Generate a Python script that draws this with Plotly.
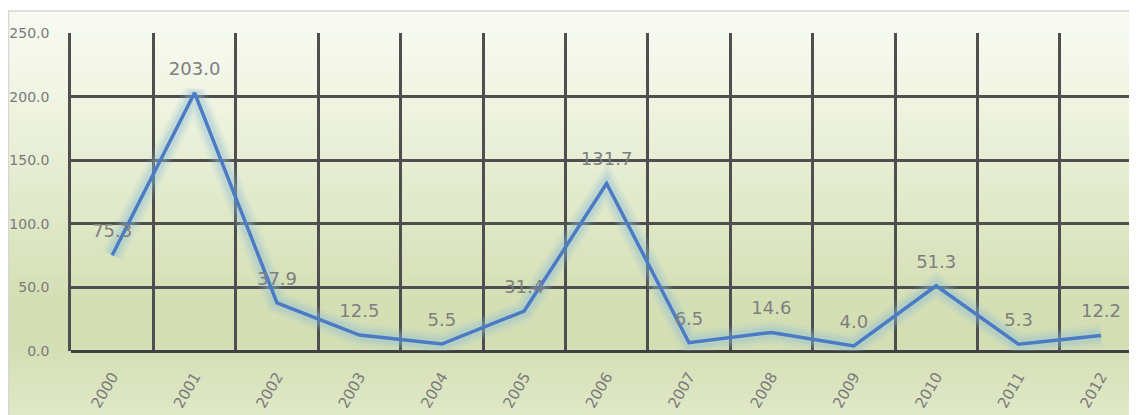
import plotly.graph_objects as go

years = ["2000", "2001", "2002", "2003", "2004", "2005", "2006",
         "2007", "2008", "2009", "2010", "2011", "2012"]
values = [75.3, 203.0, 37.9, 12.5, 5.5, 31.4, 131.7, 6.5, 14.6, 4.0, 51.3, 5.3, 12.2]
y_ticks = [0, 50, 100, 150, 200, 250]

# page has an 8px body margin; work in figure pixels
OFF = 8
W, H = 1137 - OFF, 415 - OFF
L, T, B = 71 - OFF, 33 - OFF, 351 - OFF
CELL = 82.4
idx = list(range(len(years)))

fig = go.Figure()

# soft glow
for w, a in [(22, 0.12), (16, 0.17), (11, 0.22)]:
    fig.add_trace(go.Scatter(x=idx, y=values, mode="lines",
                             line=dict(color=f"rgba(140,188,212,{a})", width=w),
                             hoverinfo="skip", showlegend=False))
# main line
fig.add_trace(go.Scatter(x=idx, y=values, mode="lines",
                         line=dict(color="#4a7bc4", width=3.5),
                         showlegend=False))
# labels
fig.add_trace(go.Scatter(x=idx, y=values, mode="markers+text",
                         marker=dict(size=20, color="rgba(0,0,0,0)"),
                         text=[f"{v:.1f}" for v in values],
                         textposition="top center",
                         textfont=dict(family="DejaVu Sans", size=18, color="#7f7f7f"),
                         showlegend=False, hoverinfo="skip"))

def py(p):
    return (B - p) / (B - T)

def pxx(p):
    return (p - L) / (W - L)

stops = [(0, (249, 251, 244)), (90, (240, 244, 226)), (190, (226, 234, 204)),
         (290, (213, 223, 181)), (335, (212, 222, 179)), (407, (224, 232, 200))]

def col_at(p):
    for (p0, c0), (p1, c1) in zip(stops[:-1], stops[1:]):
        if p0 <= p <= p1:
            t = (p - p0) / (p1 - p0)
            return tuple(round(a + (b - a) * t) for a, b in zip(c0, c1))
    return stops[-1][1]

shapes = []
step = 3
top = 3
p = top
while p < H:
    c = col_at(p + step / 2)
    shapes.append(dict(type="rect", xref="paper", yref="paper",
                       x0=pxx(0), x1=1.0,
                       y0=py(min(p + step, H) + 0.5), y1=py(p),
                       fillcolor=f"rgb{c}", line=dict(width=0), layer="below"))
    p += step
shapes.append(dict(type="line", xref="paper", yref="paper",
                   x0=pxx(0.5), x1=pxx(0.5), y0=py(H), y1=py(top),
                   line=dict(color="#d6d6d6", width=1.5), layer="below"))
shapes.append(dict(type="line", xref="paper", yref="paper",
                   x0=pxx(0), x1=1.0, y0=py(top), y1=py(top),
                   line=dict(color="#d6d6d6", width=1.5), layer="below"))

fig.update_layout(
    width=W, height=H,
    margin=dict(l=L, r=0, t=T, b=H - B, pad=0),
    paper_bgcolor="white",
    plot_bgcolor="rgba(0,0,0,0)",
    shapes=shapes,
    xaxis=dict(
        range=[-0.5, -0.5 + (W - L) / CELL],
        tickmode="array", tickvals=idx, ticktext=years,
        tickangle=-60, showgrid=False, zeroline=False, showline=False,
        ticks="", ticklabelstandoff=13,
        tickfont=dict(family="DejaVu Sans", size=15, color="#7a7a7a"),
        minor=dict(tickmode="array", tickvals=[i - 0.5 for i in range(len(years) + 1)],
                   showgrid=True, gridcolor="#4f4f4f", gridwidth=2.5, ticks=""),
    ),
    yaxis=dict(
        range=[0, 250], tickmode="array", tickvals=y_ticks,
        ticktext=[f"{v:.1f}" for v in y_ticks],
        showgrid=True, gridcolor="#4f4f4f", gridwidth=2.5,
        zeroline=True, zerolinecolor="#3f3f3f", zerolinewidth=3,
        showline=True, linecolor="#4f4f4f", linewidth=2.5,
        ticks="", ticklabelstandoff=16,
        tickfont=dict(family="DejaVu Sans", size=14, color="#7a7a7a"),
    ),
)

fig.write_html("out.html")
